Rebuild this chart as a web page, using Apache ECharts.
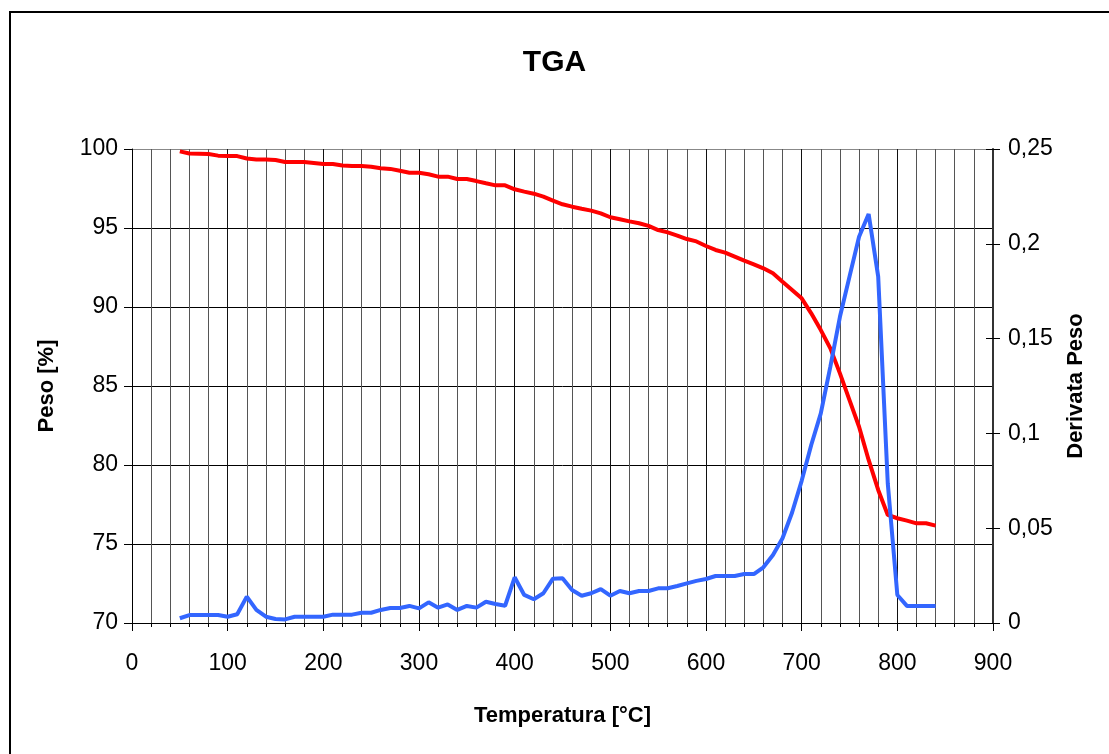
<!DOCTYPE html>
<html>
<head>
<meta charset="utf-8">
<script src="https://cdn.jsdelivr.net/npm/echarts@6/dist/echarts.min.js"></script>
<style>
html,body{margin:0;padding:0;background:#fff;}
#chart{width:1109px;height:754px;}
</style>
</head>
<body>
<div id="chart"></div>
<script>
// Temperature [°C]
const temperatures = [50,60,70,80,90,100,110,120,130,140,150,160,170,180,190,200,210,220,230,240,250,260,270,280,290,300,310,320,330,340,350,360,370,380,390,400,410,420,430,440,450,460,470,480,490,500,510,520,530,540,550,560,570,580,590,600,610,620,630,640,650,660,670,680,690,700,710,720,730,740,750,760,770,780,790,800,810,820,830,840];
// Peso [%]
const peso = [99.85,99.72,99.7,99.68,99.58,99.56,99.55,99.4,99.33,99.33,99.3,99.18,99.18,99.18,99.12,99.05,99.05,98.95,98.92,98.92,98.88,98.78,98.74,98.62,98.5,98.5,98.4,98.25,98.25,98.1,98.1,97.97,97.83,97.7,97.7,97.45,97.3,97.17,96.98,96.73,96.5,96.35,96.22,96.1,95.93,95.68,95.55,95.42,95.3,95.13,94.87,94.72,94.52,94.3,94.15,93.86,93.61,93.44,93.19,92.93,92.7,92.45,92.13,91.6,91.08,90.55,89.6,88.54,87.38,85.8,84.11,82.42,80.32,78.42,76.84,76.63,76.48,76.31,76.31,76.16];
// Derivata Peso
const derivata = [0.0025,0.0042,0.0042,0.0042,0.0042,0.0033,0.0046,0.0139,0.0069,0.0033,0.0021,0.0019,0.0033,0.0033,0.0033,0.0033,0.0044,0.0044,0.0044,0.0054,0.0054,0.0069,0.0079,0.0079,0.009,0.0077,0.0109,0.0081,0.0098,0.0069,0.009,0.0081,0.0112,0.01,0.0091,0.0241,0.0148,0.0125,0.0157,0.0234,0.0236,0.0174,0.0144,0.0157,0.0179,0.0144,0.0169,0.0157,0.0169,0.0169,0.0183,0.0183,0.0195,0.0209,0.0222,0.0232,0.0248,0.0248,0.0248,0.0258,0.0258,0.0294,0.0359,0.0447,0.0583,0.075,0.0939,0.1106,0.1352,0.1615,0.1827,0.2037,0.2157,0.1827,0.0737,0.0148,0.009,0.009,0.009,0.009];

const titleText = 'TGA';
const xName = 'Temperatura [°C]';
const yLeftName = 'Peso [%]';
const yRightName = 'Derivata Peso';

const FONT = "'Liberation Sans', Arial, sans-serif";

const pesoData = temperatures.map((t, i) => [t, peso[i]]);
const derivData = temperatures.map((t, i) => [t, derivata[i]]);

const chart = echarts.init(document.getElementById('chart'), null, {renderer: 'canvas'});
chart.setOption({
  animation: false,
  backgroundColor: '#fff',
  title: {
    text: titleText,
    left: 'center',
    top: 43,
    textStyle: {fontFamily: FONT, fontSize: 30, fontWeight: 'bold', color: '#000'}
  },
  graphic: [{
    type: 'rect',
    shape: {x: 10, y: 12, width: 1300, height: 900},
    style: {fill: 'none', stroke: '#000', lineWidth: 2},
    silent: true
  }],
  grid: {left: 132, right: 116, top: 149, bottom: 131, containLabel: false},
  xAxis: {
    type: 'value',
    min: 0, max: 900, interval: 100,
    name: xName,
    nameLocation: 'middle',
    nameGap: 82,
    nameTextStyle: {fontFamily: FONT, fontSize: 22, fontWeight: 'bold', color: '#000'},
    axisLine: {show: true, lineStyle: {color: '#000', width: 1}},
    axisTick: {show: true, length: 8, lineStyle: {color: '#000'}},
    minorTick: {show: true, splitNumber: 5, length: 4, lineStyle: {color: '#000'}},
    axisLabel: {fontFamily: FONT, fontSize: 23, color: '#000', margin: 29},
    splitLine: {show: true, lineStyle: {color: '#111', width: 1}},
    minorSplitLine: {show: true, lineStyle: {color: '#555', width: 1}}
  },
  yAxis: [{
    type: 'value',
    min: 70, max: 100, interval: 5,
    position: 'left',
    name: yLeftName,
    nameLocation: 'middle',
    nameGap: 74,
    nameRotate: 90,
    nameTextStyle: {fontFamily: FONT, fontSize: 22, fontWeight: 'bold', color: '#000'},
    axisLine: {show: true, lineStyle: {color: '#000', width: 1}},
    axisTick: {show: true, length: 8, lineStyle: {color: '#000'}},
    axisLabel: {fontFamily: FONT, fontSize: 23, color: '#000', margin: 14},
    splitLine: {show: true, lineStyle: {color: ['#000','#000','#000','#000','#000','#000','#888'], width: 1}}
  }, {
    type: 'value',
    min: 0, max: 0.25, interval: 0.05,
    position: 'right',
    name: yRightName,
    nameLocation: 'middle',
    nameGap: 72,
    nameRotate: 90,
    nameTextStyle: {fontFamily: FONT, fontSize: 22, fontWeight: 'bold', color: '#000'},
    axisLine: {show: true, lineStyle: {color: '#333', width: 2}},
    axisTick: {show: true, length: 7, lineStyle: {color: '#000'}},
    axisLabel: {fontFamily: FONT, fontSize: 23, color: '#000', margin: 15,
      formatter: v => String(parseFloat(v.toFixed(2))).replace('.', ',')},
    splitLine: {show: false}
  }, {
    type: 'value',
    min: 0, max: 0.25, interval: 0.05,
    position: 'right',
    axisLine: {show: false},
    axisTick: {show: true, inside: true, length: 7, lineStyle: {color: '#000'}},
    axisLabel: {show: false},
    splitLine: {show: false}
  }],
  series: [{
    name: yLeftName,
    type: 'line',
    yAxisIndex: 0,
    data: pesoData,
    showSymbol: false,
    symbol: 'none',
    lineStyle: {color: '#FF0000', width: 4},
    z: 3
  }, {
    name: yRightName,
    type: 'line',
    yAxisIndex: 1,
    data: derivData,
    showSymbol: false,
    symbol: 'none',
    lineStyle: {color: '#3366FF', width: 4},
    z: 4
  }]
});
</script>
</body>
</html>
